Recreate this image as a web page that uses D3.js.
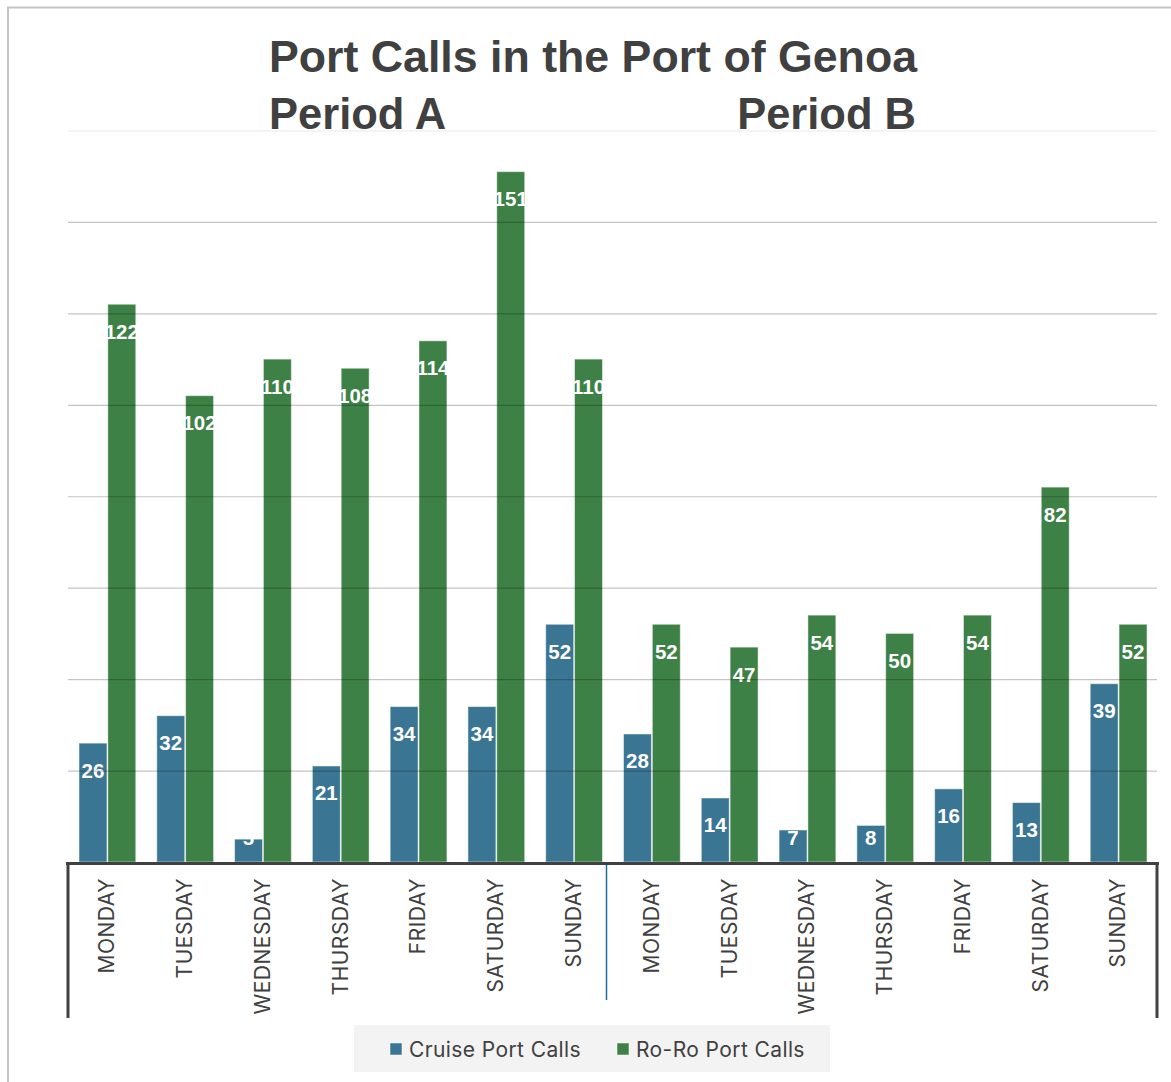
<!DOCTYPE html>
<html>
<head>
<meta charset="utf-8">
<script src="https://cdn.jsdelivr.net/npm/d3@7"></script>
<style>
  html, body { margin: 0; padding: 0; background: #ffffff; }
  svg { display: block; }
</style>
</head>
<body>
<script>
// Weekly port calls, two periods side by side
const days = ["MONDAY", "TUESDAY", "WEDNESDAY", "THURSDAY", "FRIDAY", "SATURDAY", "SUNDAY"];
const periods = ["Period A", "Period B"];
const seriesNames = ["Cruise Port Calls", "Ro-Ro Port Calls"];
const cruisePeriodA = [26, 32, 5, 21, 34, 34, 52];
const roroPeriodA = [122, 102, 110, 108, 114, 151, 110];
const cruisePeriodB = [28, 14, 7, 8, 16, 13, 39];
const roroPeriodB = [52, 47, 54, 50, 54, 82, 52];
const gridTicks = [0, 20, 40, 60, 80, 100, 120, 140, 160];

const W = 1171, H = 1082;
const colors = { "Cruise Port Calls": "#3a7693", "Ro-Ro Port Calls": "#3d8146" };
const textColor = "#404040";

// flatten to 14 categories
const rows = [];
[[cruisePeriodA, roroPeriodA], [cruisePeriodB, roroPeriodB]].forEach((pair, p) => {
  days.forEach((d, i) => {
    rows.push({ key: p + "-" + d, day: d, period: periods[p],
      values: [{ s: seriesNames[0], v: pair[0][i] }, { s: seriesNames[1], v: pair[1][i] }] });
  });
});

const plot = { left: 68, right: 1157, top: 130.5, bottom: 862 };

const svg = d3.select("body").append("svg").attr("width", W).attr("height", H);

// chart frame
svg.append("rect").attr("x", 8).attr("y", 7.5).attr("width", W + 10).attr("height", H)
  .attr("fill", "#fff").attr("stroke", "#c4c4c4").attr("stroke-width", 2);

const x0 = d3.scaleBand().domain(rows.map(r => r.key)).range([plot.left, plot.right]).padding(0);
const x1 = d3.scaleBand().domain(seriesNames).range([11, x0.bandwidth() - 10]).paddingInner(0.03);
const y = d3.scaleLinear().domain([0, 160]).range([plot.bottom, plot.top]);

// bars
const groups = svg.append("g").selectAll("g").data(rows).join("g")
  .attr("transform", d => `translate(${x0(d.key)},0)`);

groups.selectAll("rect").data(d => d.values).join("rect")
  .attr("x", d => x1(d.s))
  .attr("y", d => y(d.v))
  .attr("width", x1.bandwidth())
  .attr("height", d => y(0) - y(d.v))
  .attr("fill", d => colors[d.s])
  .attr("stroke", "#ffffff").attr("stroke-opacity", 0.5).attr("stroke-width", 1);

// gridlines over the bars, translucent
const yAxis = d3.axisLeft(y).tickValues(gridTicks.filter(t => t > 0))
  .tickSize(-(plot.right - plot.left)).tickFormat("");
const gGrid = svg.append("g").attr("transform", `translate(${plot.left},0)`).call(yAxis);
gGrid.select(".domain").remove();
gGrid.selectAll(".tick line")
  .attr("stroke", "#000")
  .attr("stroke-opacity", d => d === 160 ? 0.09 : 0.23)
  .attr("stroke-width", 1.2);

// value labels
groups.selectAll("text.val").data(d => d.values).join("text")
  .attr("class", "val")
  .attr("x", d => x1(d.s) + x1.bandwidth() / 2)
  .attr("y", d => Math.min(y(d.v) + 27, y(0) - 25))
  .attr("text-anchor", "middle")
  .attr("dominant-baseline", "central")
  .attr("font-family", "Liberation Sans, Arial, sans-serif")
  .attr("font-weight", "bold")
  .attr("font-size", 20.5)
  .attr("fill", "#ffffff")
  .text(d => d.v);

// category axis
const xAxis = d3.axisBottom(x0).tickSize(0).tickFormat(k => rows.find(r => r.key === k).day);
const gX = svg.append("g").attr("transform", `translate(0,${plot.bottom})`).call(xAxis);
gX.select(".domain").remove();
gX.selectAll(".tick text")
  .attr("transform", "rotate(-90)")
  .attr("x", -16).attr("y", 0).attr("dy", "0.35em")
  .attr("text-anchor", "end")
  .attr("font-family", "Inter, Liberation Sans, sans-serif")
  .attr("font-size", 21)
  .attr("letter-spacing", 0.5)
  .attr("fill", textColor);

// axis frame lines
const axisColor = "#404040";
svg.append("line").attr("x1", plot.left - 2).attr("x2", plot.right + 2)
  .attr("y1", plot.bottom + 1.5).attr("y2", plot.bottom + 1.5)
  .attr("stroke", axisColor).attr("stroke-width", 3);
[plot.left, plot.right].forEach(xx => {
  svg.append("line").attr("x1", xx).attr("x2", xx)
    .attr("y1", plot.bottom).attr("y2", 1018)
    .attr("stroke", axisColor).attr("stroke-width", 3);
});
// period separator
const sepX = x0(rows[7].key) - 6;
svg.append("line").attr("x1", sepX).attr("x2", sepX)
  .attr("y1", plot.bottom + 3).attr("y2", 1000)
  .attr("stroke", "#1f6b9a").attr("stroke-width", 1.5);

// title
const title = svg.append("g").attr("font-family", "Liberation Sans, Arial, sans-serif")
  .attr("font-weight", "bold").attr("fill", textColor);
title.append("text").attr("x", 269).attr("y", 72).attr("font-size", 44.7)
  .text("Port Calls in the Port of Genoa");
title.append("text").attr("x", 269).attr("y", 129).attr("font-size", 43.5).text(periods[0]);
title.append("text").attr("x", 916).attr("y", 129).attr("font-size", 43.5)
  .attr("text-anchor", "end").text(periods[1]);

// legend
const legend = svg.append("g");
legend.append("rect").attr("x", 354).attr("y", 1025).attr("width", 476).attr("height", 47)
  .attr("fill", "#f3f3f3");
const legendX = [390, 617];
seriesNames.forEach((s, i) => {
  legend.append("rect").attr("x", legendX[i]).attr("y", 1043).attr("width", 12).attr("height", 12)
    .attr("fill", colors[s]).attr("stroke", "#ffffff").attr("stroke-opacity", 0.5);
  legend.append("text").attr("x", legendX[i] + 19).attr("y", 1057)
    .attr("font-family", "Inter, Liberation Sans, sans-serif").attr("font-size", 21)
    .attr("letter-spacing", 0.4)
    .attr("fill", textColor).text(s);
});
</script>
</body>
</html>
